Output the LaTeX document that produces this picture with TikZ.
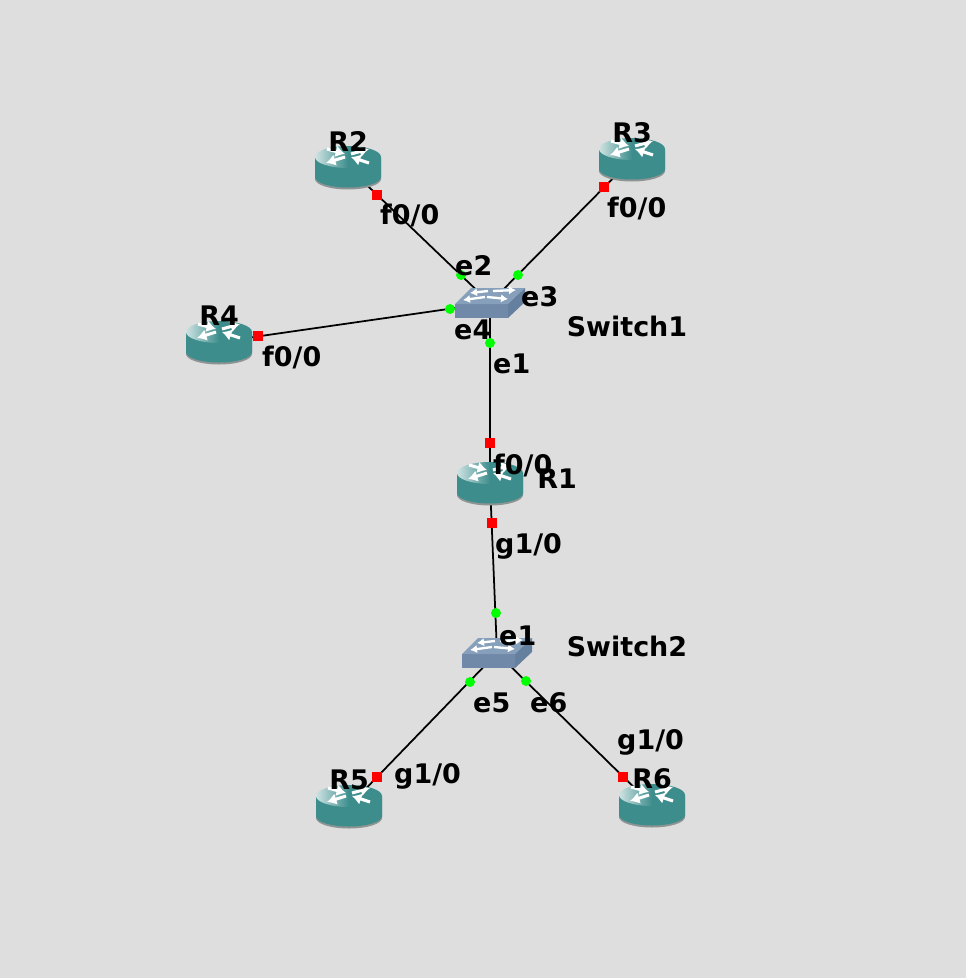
\documentclass[tikz,border=0pt]{standalone}
\usepackage{fontspec}
\setmainfont{DejaVu Sans}
\usetikzlibrary{arrows.meta}
\definecolor{bgGrey}{HTML}{DEDEDE}
\definecolor{routerSide}{HTML}{3D8D8D}
\definecolor{routerShadow}{HTML}{8E9494}
\definecolor{switchFront}{HTML}{7089A8}
\definecolor{switchTop}{HTML}{86A0BC}
\definecolor{switchSide}{HTML}{64809E}
\pgfdeclarehorizontalshading{routertop}{100bp}{
    color(0bp)=(routerSide!25!white);
    color(25bp)=(routerSide!25!white);
    color(50bp)=(routerSide);
    color(100bp)=(routerSide)}
\tikzset{
    lbl/.style={font=\bfseries\fontsize{23}{24}\selectfont, text=black, inner sep=0pt},
    redport/.style={fill=red, inner sep=0pt, minimum size=8.5pt},
    greenport/.style={circle, fill=green, inner sep=0pt, minimum size=8.5pt},
    spot/.style={inner sep=0pt, minimum size=0pt},
    link/.style={draw=black, line width=1.5pt},
    whitearrow/.style={draw=white, line width=2.6pt, -{Latex[length=8pt,width=10pt]}},
    swarrow/.style={draw=white, line width=2pt, -{Latex[length=6pt,width=7pt]}},
    router/.pic={
        \fill[routerShadow] (-33,-8) -- (-33,12) arc[start angle=180, end angle=0, x radius=33, y radius=10.5] -- (33,-8) -- cycle;
        \fill[routerSide] (-33,-10) -- (-33,10) arc[start angle=180, end angle=0, x radius=33, y radius=10.5] -- (33,-10) -- cycle;
        \shade[shading=routertop] (0,-10) ellipse[x radius=33, y radius=11];
        \draw[whitearrow] (-3,-10) -- (-22,-4);
        \draw[whitearrow] (3,-13) -- (21,-18);
        \draw[whitearrow] (-21,-18) -- (-3,-13);
        \draw[whitearrow] (21,-4) -- (3,-10);
    },
    switchbox/.pic={
        \fill[switchFront] (-35,1) rectangle (18,15);
        \fill[switchTop] (-35,1) -- (-19,-15) -- (35,-15) -- (18,1) -- cycle;
        \fill[switchSide] (18,1) -- (35,-15) -- (35,-1) -- (18,15) -- cycle;
        \draw[swarrow] (-2,-12) -- (-20,-10);
        \draw[swarrow] (3,-12) -- (26,-13);
        \draw[swarrow] (-5,-6) -- (-27,-3);
        \draw[swarrow] (-3,-6) -- (18,-4);
    },
}
\begin{document}
\begin{tikzpicture}[x=0.03cm, y=-0.03cm]
    \fill[bgGrey] (0, 0) rectangle (966, 978);
    \useasboundingbox (0, 0) rectangle (966, 978);

    % device centres
    \node[spot] (R1) at (490, 483) {};
    \node[spot] (R2) at (348, 167) {};
    \node[spot] (R3) at (632, 159) {};
    \node[spot] (R4) at (219, 342) {};
    \node[spot] (R5) at (349, 806) {};
    \node[spot] (R6) at (652, 805) {};
    \node[spot] (Switch1) at (490, 303) {};
    \node[spot] (Switch2) at (497, 653) {};

    % links
    \draw[link] (R2) -- (Switch1);
    \draw[link] (R3) -- (Switch1);
    \draw[link] (R4) -- (Switch1);
    \draw[link] (Switch1) -- (R1);
    \draw[link] (R1) -- (Switch2);
    \draw[link] (R5) -- (Switch2);
    \draw[link] (R6) -- (Switch2);

    % icons
    \foreach \r in {R1, R2, R3, R4, R5, R6}{
            \pic at (\r) {router};
        }
    \pic at (Switch1) {switchbox};
    \pic at (Switch2) {switchbox};

    % ports
    \node[redport] (p2) at (377, 195) {};
    \node[redport] (p3) at (604, 187) {};
    \node[redport] (p4) at (258, 336) {};
    \node[redport] (p1a) at (490, 443) {};
    \node[redport] (p1b) at (492, 523) {};
    \node[redport] (p5) at (377, 777) {};
    \node[redport] (p6) at (623, 777) {};
    \node[greenport] (s2) at (461, 275) {};
    \node[greenport] (s3) at (518, 275) {};
    \node[greenport] (s4) at (450, 309) {};
    \node[greenport] (s1) at (490, 343) {};
    \node[greenport] (w1) at (496, 613) {};
    \node[greenport] (w5) at (470, 682) {};
    \node[greenport] (w6) at (526, 681) {};

    % labels
    \node[lbl] (nR2) at (348, 141) {R2};
    \node[lbl] (nR3) at (632, 133) {R3};
    \node[lbl] (nR4) at (219, 316) {R4};
    \node[lbl] (nR1) at (557, 479) {R1};
    \node[lbl] (nR5) at (349, 780) {R5};
    \node[lbl] (nR6) at (652, 779) {R6};
    \node[lbl] (nS1) at (627, 326) {Switch1};
    \node[lbl] (nS2) at (627, 646) {Switch2};
    \node[lbl, anchor=base west] (l1) at (380, 224) {f0/0};
    \node[lbl, anchor=base west] (l2) at (607, 217) {f0/0};
    \node[lbl, anchor=base west] (l3) at (262, 366) {f0/0};
    \node[lbl, anchor=base west] (l4) at (493, 474) {f0/0};
    \node[lbl, anchor=base west] (l5) at (495, 553) {g1/0};
    \node[lbl, anchor=base west] (l6) at (394, 783) {g1/0};
    \node[lbl, anchor=base west] (l7) at (617, 749) {g1/0};
    \node[lbl, anchor=base west] (l8) at (455, 275) {e2};
    \node[lbl, anchor=base west] (l9) at (521, 306) {e3};
    \node[lbl, anchor=base west] (l10) at (454, 339) {e4};
    \node[lbl, anchor=base west] (l11) at (493, 373) {e1};
    \node[lbl, anchor=base west] (l12) at (499, 645) {e1};
    \node[lbl, anchor=base west] (l13) at (473, 712) {e5};
    \node[lbl, anchor=base west] (l14) at (530, 712) {e6};
\end{tikzpicture}
\end{document}
